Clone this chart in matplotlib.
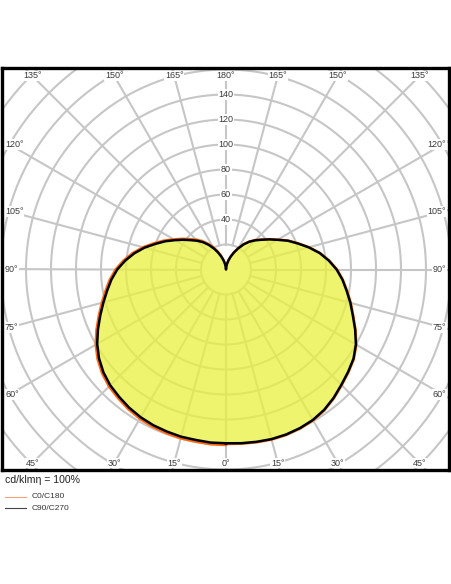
import numpy as np
import matplotlib
matplotlib.use("Agg")
import matplotlib.pyplot as plt
from matplotlib.lines import Line2D

plt.rcParams['font.family'] = ['Liberation Sans', 'DejaVu Sans']

# ---- data (cd/klm), angle measured from nadir (0) to zenith (180) ----
angles = [0, 5, 10, 15, 20, 25, 30, 35, 40, 45, 50, 55, 60, 65, 70, 75, 80, 85, 90,
          95, 100, 105, 110, 115, 120, 125, 130, 135, 140, 145, 150, 155, 160, 165, 170, 175, 180]
c0 = [139.5, 140, 140.5, 141, 141, 140.5, 139.5, 137.5, 134.5, 131, 128, 125, 120.5, 114.5, 108.5, 103.5, 98.5, 94, 89,
      83, 76.5, 69, 61.5, 55, 48, 42.5, 37.5, 33.5, 29.5, 25, 20, 15.5, 11.5, 8, 5, 2.5, 0]
c180 = [140.5, 140.5, 140, 140, 139.5, 139, 138, 136.5, 134.5, 132.5, 129.5, 125.5, 120.5, 114.5, 108.5, 103, 98, 93.5, 88.5,
        82.5, 76, 69, 61.5, 55, 48.5, 43, 38, 34, 30, 25.5, 21, 16.5, 12.5, 8.5, 5, 2.5, 0]
c90 = [139, 139.5, 140, 140.5, 140.5, 140, 139, 137, 134, 130.5, 127.5, 124.5, 120, 114, 108, 103, 98, 93.5, 88.5,
       82.5, 76, 68.5, 61, 54.5, 47.5, 42, 37, 33, 29, 24.5, 19.5, 15, 11, 7.5, 4.5, 2, 0]
c270 = [139, 139, 138.5, 138.5, 138, 137.5, 136.5, 135, 133, 131, 128, 124, 119, 113, 107, 101.5, 96.5, 92, 87,
        81, 74.5, 67.5, 60, 53.5, 47, 41.5, 36.5, 32.5, 28.5, 24, 19.5, 15, 11, 7.5, 4.5, 2, 0]
radial_ticks = [40, 60, 80, 100, 120, 140]
angle_ticks = list(range(0, 181, 15))
norm_text = "cd/klmη = 100%"
legend_labels = ["C0/C180", "C90/C270"]

W, H = 452, 584
fig = plt.figure(figsize=(W / 100, H / 100), dpi=100)
ax = fig.add_axes([2 / W, (H - 470) / H, 447 / W, 402 / H])
XL, XR, YB, YT = -179.2, 178.4, -160.4, 161.2
ax.set_xlim(XL, XR)
ax.set_ylim(YB, YT)
ax.set_xticks([])
ax.set_yticks([])
for s in ax.spines.values():
    s.set_linewidth(2.4)
    s.set_color('black')
    s.set_zorder(10)


def xy(theta_deg, r, side):
    t = np.radians(np.asarray(theta_deg, float))
    r = np.asarray(r, float)
    return side * r * np.sin(t), -r * np.cos(t)

# ---- grid ----
gcol = '#c6c6c6'
glw = 1.5
phi = np.linspace(0, 2 * np.pi, 721)
for rr in range(20, 261, 20):
    ax.plot(rr * np.cos(phi), rr * np.sin(phi), color=gcol, lw=glw, zorder=1)
for a in range(0, 360, 15):
    t = np.radians(a)
    ax.plot([20 * np.sin(t), 300 * np.sin(t)], [-20 * np.cos(t), -300 * np.cos(t)],
            color=gcol, lw=glw, zorder=1)

# ---- curves ----
rx, ry = xy(angles, c90, 1)
lx, ly = xy(angles[::-1], c270[::-1], -1)
px = np.concatenate([rx, lx])
py = np.concatenate([ry, ly])
ax.fill(px, py, color='#e9f13e', alpha=0.75, lw=0, zorder=2)

ox1, oy1 = xy(angles, c0, 1)
ox2, oy2 = xy(angles[::-1], c180[::-1], -1)
ax.plot(np.concatenate([ox1, ox2]), np.concatenate([oy1, oy2]), color='#ff6a10', lw=1.6, zorder=3,
        solid_joinstyle='round')
ax.plot(px, py, color='black', lw=1.8, zorder=4, solid_joinstyle='round')

# ---- labels ----
tc = '#3a3a3a'
bb = dict(facecolor='white', edgecolor='none', pad=0.6)
for r in radial_ticks:
    ax.text(0, r, str(r), ha='center', va='center', fontsize=6.5, color=tc, bbox=bb, zorder=5)

hx, hy = 172.8, 154.8
px_unit = 1.25
for a in angle_ticks:
    sides = [1] if a in (0, 180) else [1, -1]
    for sd in sides:
        t = np.radians(a)
        dx, dy = sd * np.sin(t), -np.cos(t)
        ky = hy / abs(dy) if abs(dy) > 1e-9 else np.inf
        kx = hx / abs(dx) if abs(dx) > 1e-9 else np.inf
        if ky <= kx:
            ax.text(ky * dx, ky * dy, f"{a}°", ha='center', va='center', fontsize=6.5, color=tc,
                    bbox=bb, zorder=5)
        else:
            yy = kx * dy
            if sd < 0:
                ax.text(XL + 3 / px_unit, yy, f"{a}°", ha='left', va='center', fontsize=6.5,
                        color=tc, bbox=bb, zorder=5)
            else:
                ax.text(XR - 3 / px_unit, yy, f"{a}°", ha='right', va='center', fontsize=6.5,
                        color=tc, bbox=bb, zorder=5)

# ---- footer ----
fig.text(5 / W, 1 - 480 / H, norm_text, fontsize=7.6, color='#222222', va='center', ha='left')
fig.add_artist(Line2D([5 / W, 26 / W], [1 - 497 / H] * 2, color='#f5a27a', lw=0.8))
fig.add_artist(Line2D([5 / W, 26 / W], [1 - 508 / H] * 2, color='#444444', lw=0.8))
fig.text(32 / W, 1 - 497 / H, legend_labels[0], fontsize=6, color='#333333', va='center', ha='left')
fig.text(32 / W, 1 - 508 / H, legend_labels[1], fontsize=6, color='#333333', va='center', ha='left')

fig.savefig('out.png', dpi=100)
